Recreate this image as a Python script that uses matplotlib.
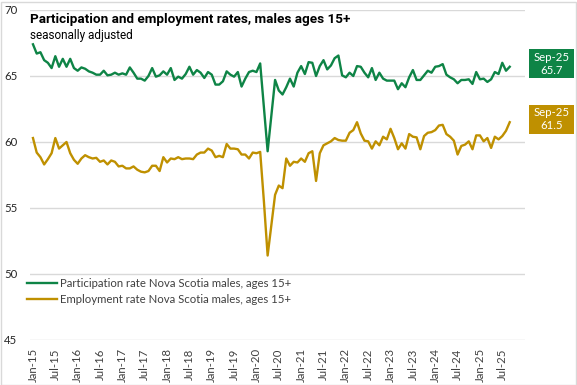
import matplotlib
matplotlib.use("Agg")
import matplotlib.pyplot as plt
from matplotlib.patches import Rectangle
import numpy as np
import pandas as pd

plt.rcParams['font.family'] = ['Lato', 'DejaVu Sans']

# ---- data -------------------------------------------------------------
months = pd.date_range("2015-01-01", periods=129, freq="MS")
month_labels = [m.strftime("%b-%y") for m in months]

participation = [
    67.4, 66.7, 66.8, 66.2, 66.0, 65.6, 66.5, 65.7, 66.3, 65.7, 66.3, 65.6,
    65.4, 65.65, 65.55, 65.35, 65.25, 65.1, 65.1, 65.4, 65.05, 65.1, 65.25, 65.1,
    65.2, 65.1, 65.65, 65.25, 64.8, 64.8, 64.65, 65.0, 65.6, 64.95, 65.05, 65.35,
    65.1, 65.6, 64.7, 64.95, 64.8, 65.15, 65.7, 65.1, 65.45, 65.25, 64.85, 65.3,
    65.1, 64.35, 64.35, 64.6, 65.35, 65.1, 64.95, 65.3, 64.2, 64.8, 65.3, 65.4,
    65.3, 65.95, 62.6, 59.3, 62.0, 64.7, 63.9, 63.6, 64.15, 64.8, 64.2, 65.25,
    65.75, 65.15, 66.05, 66.0, 65.0, 65.75, 66.2, 65.5, 65.8, 66.35, 66.55, 65.05,
    64.9, 65.25, 65.0, 65.75, 65.7, 65.25, 64.9, 65.6, 64.7, 65.25, 64.8, 64.65,
    64.65, 64.65, 64.0, 64.45, 64.15, 64.9, 65.45, 64.7, 64.7, 65.05, 65.4, 65.25,
    65.7, 65.75, 65.9, 65.1, 64.9, 64.75, 64.45, 64.7, 64.7, 64.75, 64.4, 65.3,
    64.75, 64.8, 64.55, 64.75, 65.3, 65.15, 66.0, 65.4, 65.7,
]

employment = [
    60.3, 59.2, 58.85, 58.3, 58.7, 59.15, 60.3, 59.5, 59.75, 60.0, 59.15, 58.65,
    58.35, 58.75, 59.0, 58.85, 58.75, 58.8, 58.5, 58.6, 58.3, 58.6, 58.5, 58.15,
    58.2, 58.0, 58.0, 58.15, 57.9, 57.75, 57.7, 57.8, 58.2, 58.2, 57.8, 58.85,
    58.45, 58.75, 58.7, 58.85, 58.7, 58.75, 58.75, 58.7, 59.05, 59.2, 59.2, 59.5,
    59.35, 58.85, 58.95, 58.85, 59.85, 59.5, 59.5, 59.45, 59.05, 59.05, 58.75, 59.2,
    59.15, 59.25, 55.5, 51.4, 53.7, 56.0, 56.7, 56.5, 58.75, 58.2, 58.5, 58.45,
    58.75, 58.5, 59.15, 59.3, 57.05, 59.15, 59.75, 59.9, 60.05, 60.3, 60.15, 60.1,
    60.1, 60.7, 60.9, 61.5, 60.65, 60.1, 60.05, 59.5, 60.05, 59.75, 60.4, 60.2,
    61.0, 60.3, 59.45, 59.9, 59.5, 60.6, 60.4, 60.35, 59.45, 60.45, 60.7, 60.75,
    60.9, 61.25, 61.3, 60.6, 60.4, 60.1, 59.05, 59.7, 59.8, 60.05, 59.45, 60.5,
    60.5, 60.05, 60.3, 59.55, 60.4, 60.2, 60.45, 60.85, 61.5,
]

tick_labels = ["Jan-15", "Jul-15", "Jan-16", "Jul-16", "Jan-17", "Jul-17",
               "Jan-18", "Jul-18", "Jan-19", "Jul-19", "Jan-20", "Jul-20",
               "Jan-21", "Jul-21", "Jan-22", "Jul-22", "Jan-23", "Jul-23",
               "Jan-24", "Jul-24", "Jan-25", "Jul-25"]

series_names = ["Participation rate Nova Scotia males, ages 15+",
                "Employment rate Nova Scotia males, ages 15+"]
title = "Participation and employment rates, males ages 15+"
subtitle = "seasonally adjusted"

# ---- style --------------------------------------------------------------
GREEN = "#0E8446"
GOLD = "#BF9000"
GRID = "#D9D9D9"
TXT = "#404040"

W, H = 577, 385
fig = plt.figure(figsize=(W / 100, H / 100), dpi=100)

ax = fig.add_axes([30 / W, 1 - 340 / H, 495 / W, 330 / H])
x = np.arange(len(months))
l1, = ax.plot(x, participation, color=GREEN, lw=1.7, solid_joinstyle="round")
l2, = ax.plot(x, employment, color=GOLD, lw=1.7, solid_joinstyle="round")

ax.set_ylim(45, 70)
ax.set_yticks([45, 50, 55, 60, 65, 70])
ax.set_xlim(-0.8, 132.1)
tick_pos = [month_labels.index(t) for t in tick_labels]
ax.set_xticks(tick_pos)
ax.set_xticklabels(tick_labels, rotation=90, fontsize=8.2, color=TXT)
ax.tick_params(axis="x", length=0, pad=6)
ax.tick_params(axis="y", length=0, pad=9, labelsize=8.2, labelcolor="#262626")
ax.grid(axis="y", color=GRID, lw=1)
ax.set_axisbelow(True)
for s in ax.spines.values():
    s.set_visible(False)

fig.text(30 / W, 1 - 20 / H, title, fontsize=9.7, fontweight="bold",
         family=["Roboto", "DejaVu Sans"], color="black", va="center", ha="left")
fig.text(30 / W, 1 - 35 / H, subtitle, fontsize=8.5,
         family=["Roboto", "DejaVu Sans"], color="black", va="center", ha="left")

leg = fig.legend([l1, l2], series_names, loc="upper left",
                 bbox_to_anchor=(27 / W, 1 - 278 / H), frameon=False,
                 fontsize=8.2, handlelength=2.6, handletextpad=0.3,
                 labelspacing=0.45, borderaxespad=0, borderpad=0)
for t in leg.get_texts():
    t.set_color(TXT)

# end-of-series labels
fig.canvas.draw()
for vals, col in [(participation, GREEN), (employment, GOLD)]:
    ydisp = ax.transData.transform((len(vals) - 1, vals[-1]))[1]
    yc = ydisp / H + 3 / H
    bw, bh = 45 / W, 29 / H
    fig.patches.append(Rectangle((529 / W, yc - bh / 2), bw, bh,
                                 transform=fig.transFigure, facecolor=col,
                                 edgecolor="none"))
    fig.text(529 / W + bw / 2, yc, f"{month_labels[len(vals) - 1]}\n{vals[-1]:.1f}",
             color="white", fontsize=8.2, ha="center", va="center",
             linespacing=1.25)

fig.patches.append(Rectangle((0.5 / W, 0.5 / H), (W - 2) / W, (H - 2) / H,
                             transform=fig.transFigure, facecolor="none",
                             edgecolor=GRID, lw=1))

fig.savefig("out.png", dpi=100)
